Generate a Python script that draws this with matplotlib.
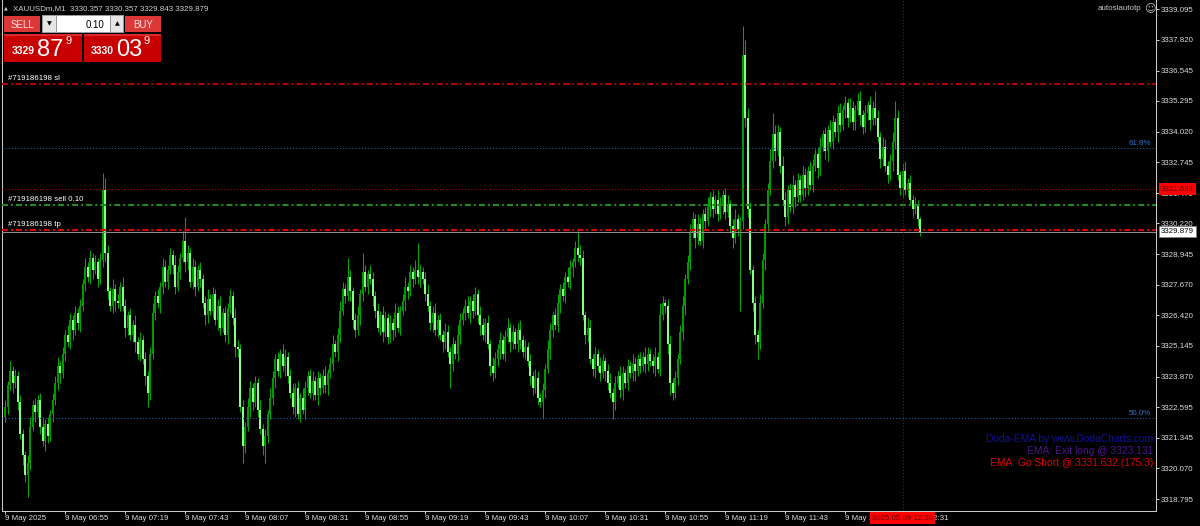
import numpy as np
import matplotlib.pyplot as plt
from matplotlib.patches import Rectangle

plt.rcParams['font.family'] = ['Liberation Sans', 'DejaVu Sans']
plt.rcParams['lines.scale_dashes'] = False

# XAUUSDm M1 bars, 9 May 2025 06:31 .. 12:37 (one close per minute)
first_open = 3322.2
closes = [
    3322.6, 3323.5, 3324.1, 3323.6, 3323.9, 3322.8, 3321.5, 3320.6, 3319.8, 3320.3,
    3321.8, 3322.7, 3322.4, 3322.9, 3321.8, 3321.2, 3321.9, 3321.4, 3322.3, 3322.9,
    3323.6, 3324.3, 3324.0, 3324.8, 3325.6, 3325.3, 3326.2, 3325.8, 3326.5, 3326.1,
    3326.8, 3327.7, 3328.4, 3328.0, 3328.8, 3328.3, 3328.6, 3327.9, 3328.7, 3331.6,
    3329.0, 3327.4, 3326.8, 3327.5, 3327.0, 3326.9, 3327.6, 3326.8, 3325.9, 3326.4,
    3325.6, 3326.0, 3325.3, 3324.8, 3325.4, 3324.6, 3323.9, 3323.2, 3324.8, 3326.5,
    3327.2, 3326.9, 3327.6, 3328.4, 3327.8, 3328.3, 3328.9, 3328.5, 3327.6, 3328.2,
    3328.8, 3329.5, 3328.6, 3329.0, 3327.8, 3328.4, 3327.6, 3328.3, 3327.9, 3326.9,
    3326.4, 3327.1, 3326.6, 3327.3, 3326.2, 3326.8, 3325.9, 3326.5, 3325.6, 3326.7,
    3327.2, 3326.3, 3325.1, 3325.0, 3322.6, 3321.0, 3321.8, 3322.6, 3323.4, 3322.8,
    3323.6, 3322.5, 3321.7, 3321.0, 3321.4, 3322.3, 3323.0, 3323.8, 3324.6, 3324.1,
    3324.8, 3324.3, 3324.7, 3323.9, 3323.2, 3322.6, 3323.4, 3322.3, 3323.0, 3322.5,
    3323.4, 3323.9, 3323.2, 3323.7, 3323.1, 3323.8, 3323.4, 3323.9, 3323.5, 3324.0,
    3324.4, 3325.2, 3324.9, 3325.6, 3326.6, 3327.5, 3327.2, 3328.0, 3327.4, 3326.2,
    3325.8, 3326.4, 3327.3, 3328.2, 3327.6, 3328.1, 3327.9, 3327.2, 3326.6, 3325.9,
    3326.4, 3325.7, 3326.3, 3325.5, 3326.1, 3325.8, 3326.5, 3325.9, 3326.6, 3327.0,
    3327.6, 3327.4, 3328.2, 3327.9, 3328.3, 3328.0, 3328.2, 3327.9, 3327.3, 3326.8,
    3326.1, 3326.5, 3325.8, 3326.2, 3325.6, 3325.3, 3325.7, 3324.9, 3324.4, 3325.2,
    3324.8, 3325.6, 3326.2, 3326.5, 3326.8, 3326.5, 3327.0, 3326.6, 3327.3, 3326.4,
    3326.0, 3325.6, 3326.1, 3325.2, 3324.3, 3324.0, 3324.6, 3325.0, 3325.4, 3324.8,
    3325.5, 3325.9, 3325.3, 3325.7, 3325.2, 3325.8, 3325.4, 3324.9, 3325.1, 3324.5,
    3323.9, 3323.4, 3323.8, 3323.0, 3322.8, 3323.3, 3324.2, 3325.0, 3325.8, 3326.4,
    3326.0, 3326.9, 3327.5, 3327.2, 3328.0, 3327.8, 3328.4, 3328.6, 3329.2, 3328.9,
    3328.8, 3326.4, 3325.6, 3325.9, 3324.6, 3324.2, 3324.8, 3324.3, 3324.0, 3324.5,
    3324.1, 3323.6, 3323.2, 3322.8, 3323.6, 3323.9, 3323.3, 3324.0, 3323.6, 3324.3,
    3324.0, 3324.4, 3324.1, 3324.6, 3324.3, 3324.7, 3324.4, 3324.8, 3324.5, 3324.3,
    3324.7, 3324.2, 3326.4, 3326.9, 3326.8, 3325.2, 3323.6, 3323.2, 3323.8, 3324.6,
    3325.7, 3326.8, 3327.9, 3328.6, 3329.8, 3330.4, 3329.6, 3330.2, 3329.5, 3330.6,
    3330.3, 3330.9, 3331.3, 3330.8, 3331.2, 3330.6, 3331.0, 3331.4, 3330.7, 3331.0,
    3330.1, 3329.6, 3330.4, 3330.0, 3330.3, 3337.2, 3334.6, 3330.8, 3328.3, 3326.9,
    3325.6, 3325.3, 3326.9, 3328.7, 3330.2, 3331.6, 3332.8, 3333.9, 3333.2, 3334.0,
    3332.6, 3331.2, 3330.5, 3331.6, 3330.9, 3331.8, 3331.3, 3332.0, 3331.4, 3332.2,
    3331.7, 3332.4, 3331.8, 3332.6, 3333.1, 3332.5, 3333.4, 3333.9, 3333.2, 3334.1,
    3333.6, 3334.4, 3334.0, 3334.8, 3334.3, 3334.9, 3335.2, 3334.6, 3335.0, 3334.4,
    3334.9, 3335.3, 3334.7, 3334.2, 3334.8, 3335.1, 3334.5, 3335.0, 3334.6, 3333.8,
    3332.9, 3333.4, 3332.6, 3332.2, 3332.8, 3333.6, 3334.6, 3332.2, 3331.7, 3332.4,
    3331.6, 3331.9, 3331.2, 3330.8, 3331.0, 3330.4, 3329.879,
]
# upper / lower shadow of each bar, in tenths of a dollar
wick_up = [
    3, 2, 4, 2, 3, 2, 3, 2, 2, 3, 4, 2, 3, 2, 3, 4, 2, 3, 2, 3,
    3, 4, 2, 3, 2, 4, 3, 2, 3, 2, 3, 2, 4, 2, 3, 2, 3, 2, 3, 7,
    5, 3, 2, 4, 2, 3, 2, 4, 3, 2, 3, 2, 4, 2, 3, 2, 3, 2, 3, 4,
    2, 3, 2, 4, 3, 2, 3, 2, 4, 3, 2, 4, 10, 3, 2, 4, 3, 2, 3, 2,
    3, 4, 2, 3, 2, 3, 4, 2, 3, 2, 3, 2, 4, 3, 2, 3, 2, 4, 3, 2,
    3, 2, 4, 2, 3, 2, 4, 3, 2, 3, 2, 4, 3, 2, 3, 4, 2, 3, 2, 4,
    3, 2, 3, 4, 2, 3, 2, 3, 4, 2, 3, 4, 2, 3, 4, 3, 2, 8, 3, 2,
    3, 4, 2, 8, 3, 2, 4, 3, 2, 3, 2, 4, 3, 2, 3, 2, 4, 3, 2, 3,
    4, 2, 3, 2, 4, 11, 3, 2, 3, 4, 2, 3, 4, 2, 3, 2, 4, 3, 2, 3,
    2, 4, 3, 2, 3, 4, 2, 3, 3, 2, 4, 3, 2, 3, 2, 4, 3, 2, 3, 2,
    3, 4, 2, 3, 2, 3, 4, 2, 3, 2, 3, 2, 4, 3, 2, 3, 2, 4, 3, 2,
    3, 4, 2, 3, 2, 4, 3, 2, 3, 7, 4, 3, 2, 4, 3, 2, 3, 2, 4, 3,
    2, 3, 4, 2, 3, 2, 4, 3, 2, 3, 2, 4, 3, 2, 3, 2, 4, 3, 2, 3,
    4, 2, 5, 3, 2, 3, 4, 2, 3, 2, 3, 4, 2, 3, 4, 3, 2, 4, 3, 2,
    3, 4, 2, 3, 2, 4, 3, 2, 3, 4, 2, 3, 4, 2, 2, 12, 6, 4, 3, 2,
    3, 2, 4, 3, 2, 3, 5, 9, 4, 3, 2, 4, 3, 2, 3, 4, 2, 3, 2, 4,
    3, 2, 4, 3, 2, 3, 4, 2, 3, 2, 4, 3, 2, 3, 4, 2, 3, 2, 4, 3,
    2, 3, 4, 2, 3, 2, 4, 3, 7, 3, 2, 4, 3, 2, 3, 4, 7, 3, 2, 3,
    4, 2, 3, 2, 3, 2, 1,
]
wick_dn = [
    2, 3, 2, 4, 2, 3, 2, 4, 3, 9, 3, 2, 4, 2, 3, 2, 4, 3, 2, 3,
    2, 3, 4, 2, 3, 2, 3, 4, 2, 3, 4, 2, 3, 2, 3, 4, 2, 3, 2, 3,
    4, 3, 2, 3, 4, 2, 3, 2, 4, 3, 2, 3, 4, 2, 3, 2, 4, 6, 3, 2,
    3, 2, 4, 3, 2, 3, 2, 4, 3, 2, 3, 2, 4, 3, 2, 3, 4, 2, 3, 2,
    4, 3, 2, 3, 2, 4, 3, 2, 3, 4, 2, 3, 4, 3, 2, 7, 3, 2, 4, 3,
    2, 3, 2, 4, 7, 3, 2, 3, 4, 2, 3, 2, 4, 3, 2, 3, 4, 2, 3, 2,
    4, 3, 2, 3, 2, 4, 3, 2, 3, 4, 2, 3, 2, 4, 3, 2, 3, 2, 4, 3,
    3, 2, 4, 3, 2, 3, 2, 4, 3, 2, 3, 4, 2, 3, 2, 4, 3, 2, 3, 2,
    4, 3, 2, 3, 2, 3, 4, 2, 3, 2, 3, 4, 2, 3, 2, 4, 3, 2, 10, 3,
    2, 3, 4, 2, 3, 2, 4, 3, 2, 3, 4, 2, 3, 2, 4, 3, 2, 3, 4, 2,
    3, 2, 4, 3, 2, 3, 4, 2, 3, 2, 4, 3, 2, 3, 2, 7, 3, 2, 4, 3,
    2, 3, 4, 2, 3, 2, 3, 4, 2, 3, 3, 2, 4, 3, 2, 3, 4, 2, 3, 2,
    4, 3, 2, 7, 3, 2, 3, 4, 2, 3, 2, 3, 4, 2, 3, 2, 4, 3, 2, 3,
    4, 2, 3, 2, 3, 4, 5, 3, 2, 3, 2, 3, 4, 2, 3, 2, 4, 3, 2, 3,
    3, 2, 4, 3, 2, 3, 2, 4, 3, 2, 3, 4, 2, 3, 34, 3, 4, 3, 2, 3,
    4, 7, 3, 2, 4, 3, 2, 3, 4, 2, 3, 2, 4, 3, 2, 3, 4, 2, 3, 2,
    4, 3, 2, 3, 2, 4, 3, 2, 3, 4, 2, 3, 2, 4, 3, 2, 3, 4, 2, 3,
    3, 2, 4, 3, 2, 3, 4, 2, 3, 2, 4, 3, 2, 3, 2, 4, 3, 2, 3, 4,
    2, 3, 2, 3, 2, 3, 2,
]

price_ticks = [3339.095, 3337.820, 3336.545, 3335.295, 3334.020, 3332.745, 3331.470,
               3330.220, 3328.945, 3327.670, 3326.420, 3325.145, 3323.870, 3322.595,
               3321.345, 3320.070, 3318.795]
time_ticks = [0, 24, 48, 72, 96, 120, 144, 168, 192, 216, 240, 264, 288, 312, 336, 360]
time_labels = ['9 May 2025', '9 May 06:55', '9 May 07:19', '9 May 07:43', '9 May 08:07',
               '9 May 08:31', '9 May 08:55', '9 May 09:19', '9 May 09:43', '9 May 10:07',
               '9 May 10:31', '9 May 10:55', '9 May 11:19', '9 May 11:43', '9 May 12:07',
               '9 May 12:31']

sl_price = 3336.00
fib618 = 3333.34
short_price = 3331.632
entry_price = 3330.98
tp_price = 3329.96
bid = 3329.879
fib50 = 3322.15
cross_bar = 359

fig = plt.figure(figsize=(12, 5.26), dpi=100, facecolor='black')
ax = fig.add_axes([2/1200, 15/526, 1154/1200, 511/526])
ax.set_facecolor('black')

# candles
idx = np.arange(len(closes))
c = np.array(closes)
o = np.r_[first_open, c[:-1]]
hi = np.maximum(o, c) + np.array(wick_up) / 10
lo = np.minimum(o, c) - np.array(wick_dn) / 10
up = c >= o
ax.vlines(idx, lo, hi, colors='#00a800', linewidth=0.75, zorder=2)
ax.bar(idx, np.maximum(np.abs(c - o), 0.04), bottom=np.minimum(o, c), width=0.8,
       color=np.where(up, '#009a00', '#86ff86'), linewidth=0, zorder=2.1)

# horizontal levels
dashdot = (0, (4.3, 2.2, 1.4, 2.2))
dotted = (0, (0.75, 1.5))
ax.axhline(sl_price, color='#b00000', lw=1.5, ls=dashdot, zorder=3)
ax.axhline(tp_price, color='#e00000', lw=1.5, ls=dashdot, zorder=3)
ax.axhline(entry_price, color='#1e8c1e', lw=1.5, ls=dashdot, zorder=3)
ax.axhline(short_price, color='#c80000', lw=0.75, ls=dotted, zorder=3)
ax.axhline(fib618, color='#1c64b4', lw=0.75, ls=dotted, zorder=3)
ax.axhline(fib50, color='#1c64b4', lw=0.75, ls=dotted, zorder=3)
ax.axhline(bid, color='#8c8c8c', lw=0.75, zorder=3)
ax.axvline(cross_bar, color='#b00000', lw=0.75, ls=dotted, zorder=3)

ax.set_xlim(-1.2, 460.4)
ax.set_ylim(3318.30, 3339.47)

for s in ['left', 'bottom', 'right']:
    ax.spines[s].set_color('#c8c8c8')
    ax.spines[s].set_linewidth(0.75)
ax.spines['top'].set_visible(False)

ax.yaxis.tick_right()
ax.set_yticks(price_ticks)
ax.set_yticklabels([f'{p:.3f}' for p in price_ticks])
ax.tick_params(axis='y', length=2.2, width=0.75, color='#c8c8c8', labelcolor='#dcdcdc',
               labelsize=5.7, pad=1.5)
ax.set_xticks(time_ticks)
ax.set_xticklabels(time_labels, ha='left')
ax.tick_params(axis='x', length=2.2, width=0.75, color='#c8c8c8', labelcolor='#dcdcdc',
               labelsize=5.7, pad=1)

ty = ax.get_yaxis_transform()
tx = ax.get_xaxis_transform()
lbl = dict(transform=ty, fontsize=5.7, color='white', va='bottom', ha='left', zorder=4)
ax.text(6/1154, sl_price + 0.06, '#719186198 sl', **lbl)
ax.text(6/1154, entry_price + 0.06, '#719186198 sell 0.10', **lbl)
ax.text(6/1154, tp_price + 0.06, '#719186198 tp', **lbl)
ax.text(1 - 5/1154, fib618 + 0.04, '61.8%', transform=ty, fontsize=5.7, color='#2e72c8',
        va='bottom', ha='right', zorder=4)
ax.text(1 - 5/1154, fib50 + 0.04, '50.0%', transform=ty, fontsize=5.7, color='#2e72c8',
        va='bottom', ha='right', zorder=4)

ax.text(1 + 5/1154, short_price, f'{short_price:.3f}', transform=ty, fontsize=5.7,
        color='#5a0000', ha='left', va='center', clip_on=False, zorder=6,
        bbox=dict(boxstyle='square,pad=0.3', fc='#ff0000', ec='none'))
ax.text(1 + 5/1154, bid, f'{bid:.3f}', transform=ty, fontsize=5.7,
        color='black', ha='left', va='center', clip_on=False, zorder=6,
        bbox=dict(boxstyle='square,pad=0.3', fc='white', ec='#808080', lw=0.5))
ax.text(cross_bar, -7/511, '2025.05.09 12:30', transform=tx, fontsize=5.7,
        color='#5a0000', ha='center', va='center', clip_on=False, zorder=6,
        bbox=dict(boxstyle='square,pad=0.3', fc='#ff0000', ec='none'))

# overlay in pixel coordinates for the terminal decorations
ov = fig.add_axes([0, 0, 1, 1], zorder=5)
ov.set_xlim(0, 1200)
ov.set_ylim(526, 0)
ov.axis('off')


def box(x0, y0, x1, y1, fc, ec='none', lw=0):
    ov.add_patch(Rectangle((x0, y0), x1 - x0, y1 - y0, fc=fc, ec=ec, lw=lw))


box(3, 14, 162, 63, '#000000')
box(4, 16, 40, 32, '#dc3838')
box(125, 16, 161, 32, '#dc3838')
box(42, 15, 124, 33, '#9a9a9a')
box(43, 16, 56, 32, '#e6e6e6')
box(111, 16, 123, 32, '#e6e6e6')
box(57, 16, 110, 32, '#ffffff')
box(4, 34, 82, 62, '#c80000')
box(84, 34, 161, 62, '#c80000')
box(4, 34, 82, 36, '#dc2a2a')
box(84, 34, 161, 36, '#dc2a2a')

ov.text(22, 24.5, 'SELL', ha='center', va='center', color='#ffe0e0', fontsize=7)
ov.text(143, 24.5, 'BUY', ha='center', va='center', color='#ffe0e0', fontsize=7)
ov.text(49.5, 24, '▼', ha='center', va='center', color='black', fontsize=4.5,
        family=['DejaVu Sans'])
ov.text(117, 24, '▲', ha='center', va='center', color='black', fontsize=4.5,
        family=['DejaVu Sans'])
ov.text(104, 24.5, '0.10', ha='right', va='center', color='black', fontsize=7)

ov.text(12, 53.5, '3329', ha='left', va='baseline', color='white', fontsize=7.5,
        fontweight='bold')
ov.text(37, 55.5, '87', ha='left', va='baseline', color='white', fontsize=17)
ov.text(65, 44.5, '9', ha='left', va='baseline', color='white', fontsize=8)
ov.text(91, 53.5, '3330', ha='left', va='baseline', color='white', fontsize=7.5,
        fontweight='bold')
ov.text(116, 55.5, '03', ha='left', va='baseline', color='white', fontsize=17)
ov.text(144, 44.5, '9', ha='left', va='baseline', color='white', fontsize=8)

ov.text(6, 8, '▲', ha='center', va='center', color='#c8c8c8', fontsize=3.5,
        family=['DejaVu Sans'])
ov.text(13, 8.5, 'XAUUSDm,M1  3330.357 3330.357 3329.843 3329.879', ha='left',
        va='center', color='#d0d0d0', fontsize=5.7)
ov.text(1141, 9, 'autoslautotp', ha='right', va='center', color='#c8c8c8', fontsize=5.8)
ov.text(1150, 9, '☺', ha='center', va='center', color='#c8c8c8', fontsize=8,
        family=['DejaVu Sans'])

ov.text(1153, 439, 'Doda-EMA by www.DodaCharts.com', ha='right', va='center',
        color='#10109a', fontsize=7.4)
ov.text(1153, 451, 'EMA: Exit long @ 3323.131', ha='right', va='center',
        color='#4a1488', fontsize=7.4)
ov.text(1153, 463, 'EMA: Go Short @ 3331.632 (175.3)', ha='right', va='center',
        color='#e00000', fontsize=7.4)

fig.savefig('out.png', dpi=100, facecolor='black')
